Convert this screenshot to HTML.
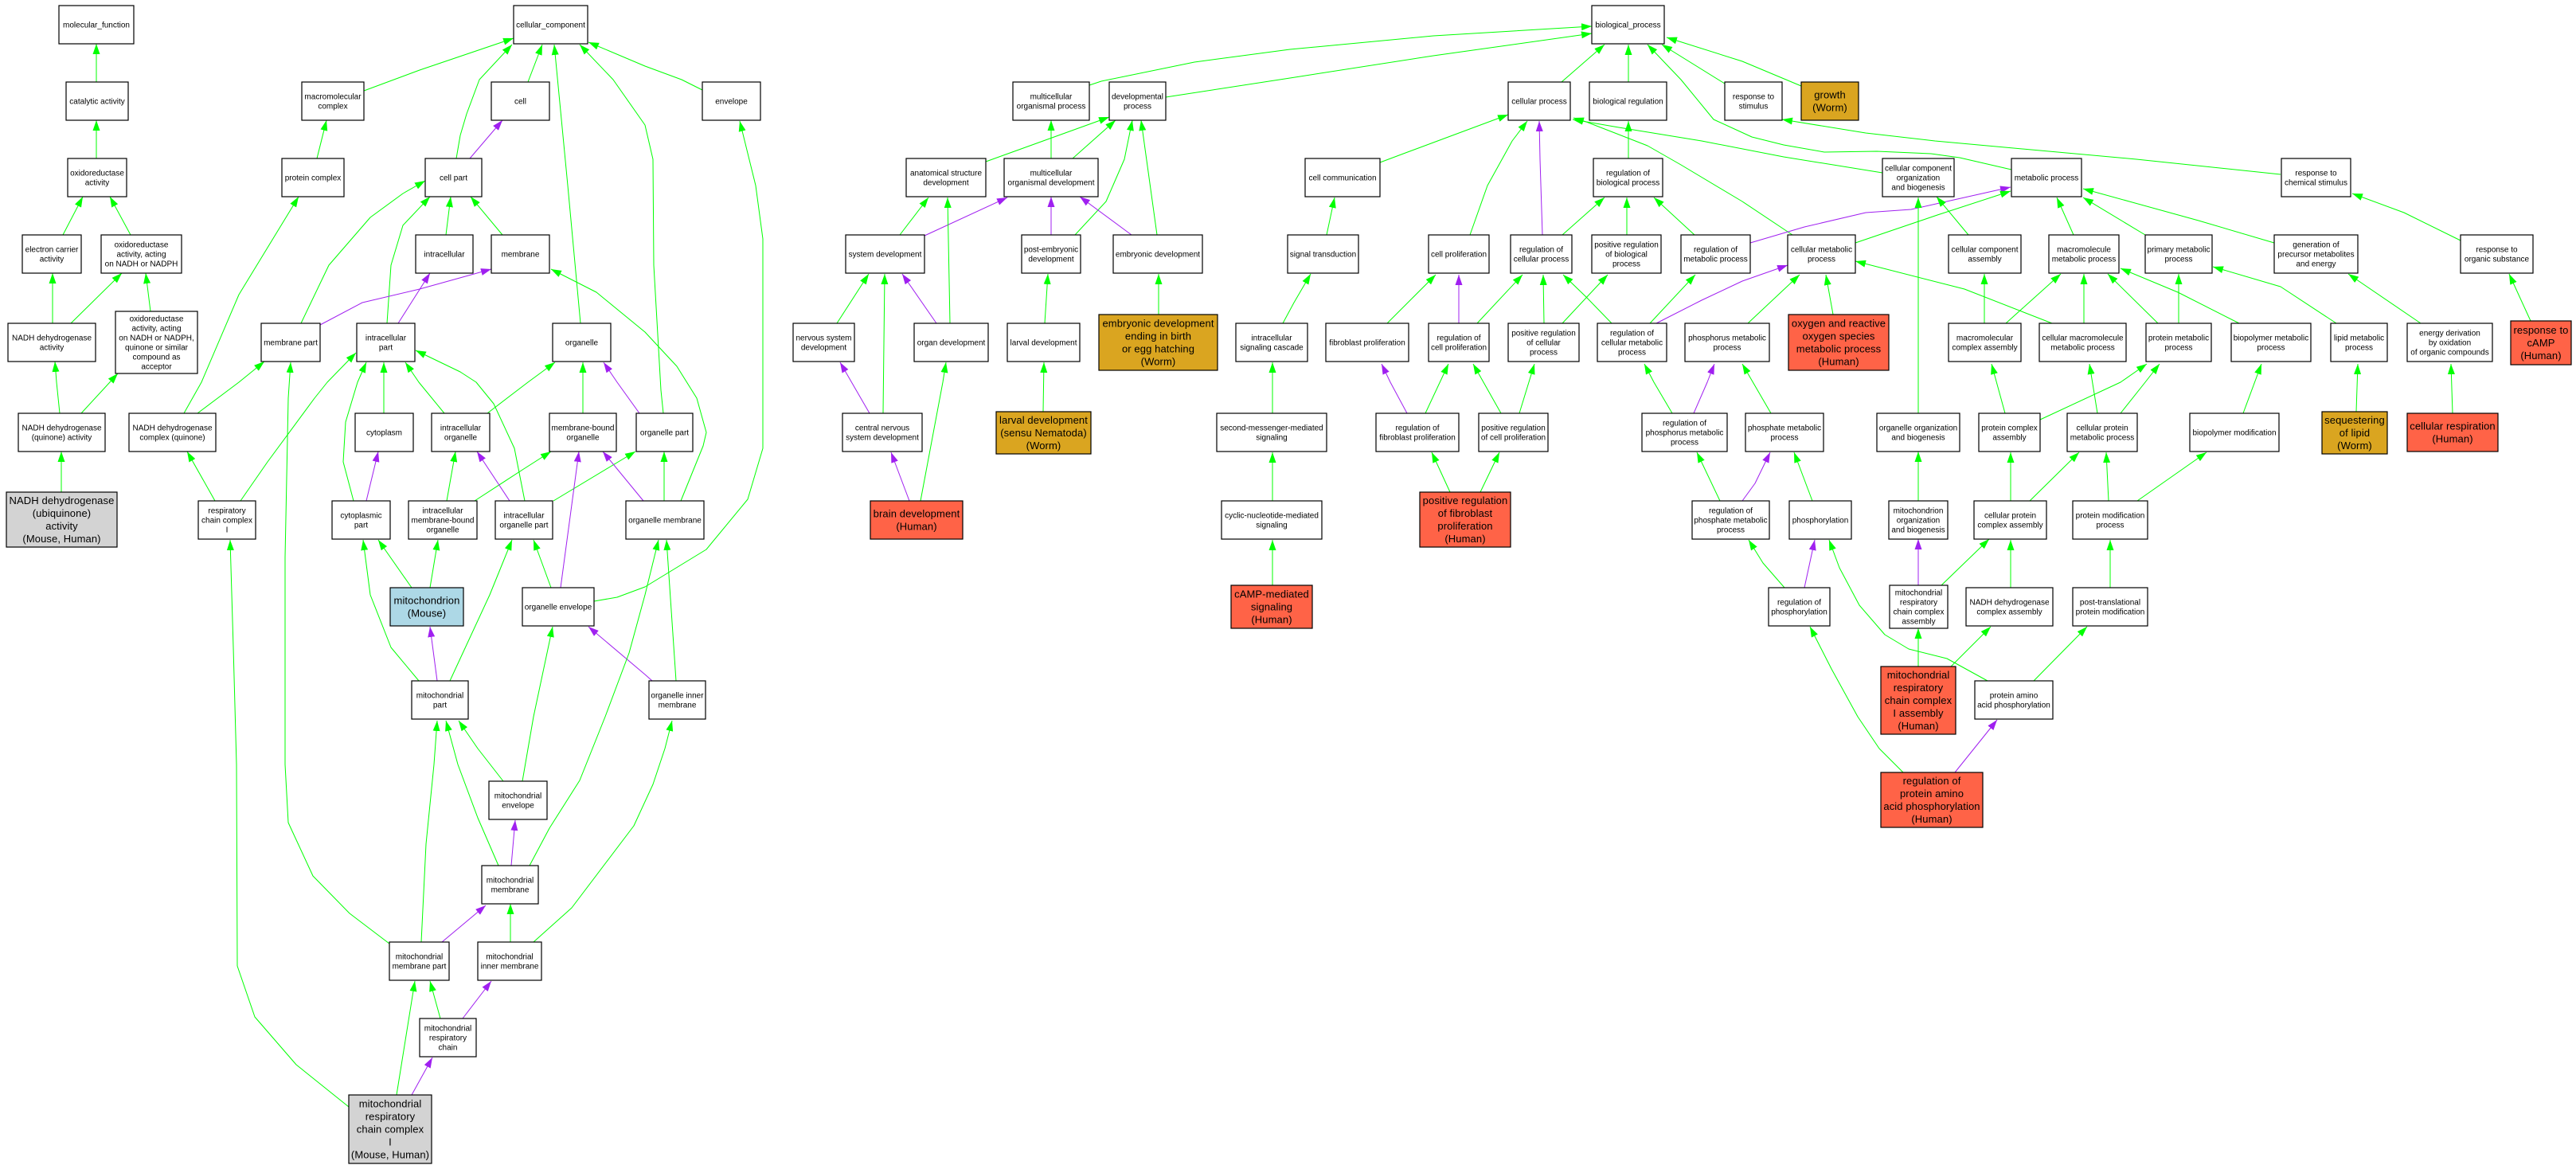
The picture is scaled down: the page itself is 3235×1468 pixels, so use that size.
<!DOCTYPE html>
<html><head><meta charset="utf-8"><title>GO diagram</title>
<style>
html,body{margin:0;padding:0;background:#fff;}
svg{display:block;}
.e path{fill:none;stroke-width:1;stroke-linejoin:round;}
.g{stroke:#00ff00;marker-end:url(#ag);}
.p{stroke:#a020f0;marker-end:url(#ap);}
.n rect{fill:#fff;stroke:#000;stroke-width:1.2;}
.n text{font-family:"Liberation Sans",Arial,sans-serif;font-size:10px;text-anchor:middle;fill:#000;}
.n rect.gold{fill:#daa520;}
.n rect.red{fill:#ff6347;}
.n rect.gray{fill:#d3d3d3;}
.n rect.blue{fill:#add8e6;}
.n text.c{font-size:13px;letter-spacing:0.1px;}
</style></head>
<body>
<svg width="3235" height="1468" viewBox="0 0 3235 1468" xmlns="http://www.w3.org/2000/svg">
<defs>
<marker id="ag" markerUnits="userSpaceOnUse" markerWidth="14" markerHeight="10" refX="13" refY="5" orient="auto" viewBox="0 0 14 10"><path d="M0,0.5L13,5L0,9.5z" fill="#00ff00"/></marker>
<marker id="ap" markerUnits="userSpaceOnUse" markerWidth="14" markerHeight="10" refX="13" refY="5" orient="auto" viewBox="0 0 14 10"><path d="M0,0.5L13,5L0,9.5z" fill="#a020f0"/></marker>
</defs>
<rect x="0" y="0" width="3235" height="1468" fill="#fff"/>
<g class="e">
<!-- left: molecular function -->
<path class="g" d="M121,103 L121,55"/>
<path class="g" d="M121,199 L121,151"/>
<path class="g" d="M79,295 L104,247"/>
<path class="g" d="M164,295 L138,247"/>
<path class="g" d="M66,406 L66,343"/>
<path class="g" d="M89,406 L153,343"/>
<path class="g" d="M189,391 L183,343"/>
<path class="g" d="M75,519 L71,480 L69,454"/>
<path class="g" d="M102,519 L148,469"/>
<path class="g" d="M77,618 L77,567"/>
<!-- cellular component -->
<path class="g" d="M457,114 L527,88 L645,48"/>
<path class="g" d="M573,199 L578,170 L586,143 L602,100 L643,56"/>
<path class="g" d="M663,103 L681,56"/>
<path class="g" d="M729,406 L713,233 L696,56"/>
<path class="g" d="M882,113 L856,100 L810,83 L739,53"/>
<path class="g" d="M833,519 L830,490 L821,333 L820,200 L810,157 L770,100 L728,56"/>
<path class="p" d="M590,199 L631,151"/>
<path class="g" d="M560,295 L566,247"/>
<path class="g" d="M631,295 L591,247"/>
<path class="g" d="M378,406 L413,333 L465,273 L506,243 L534,227"/>
<path class="g" d="M486,406 L491,333 L506,283 L540,247"/>
<path class="p" d="M402,408 L455,380 L527,363 L617,338"/>
<path class="p" d="M500,406 L540,343"/>
<path class="g" d="M398,199 L410,151"/>
<path class="g" d="M231,519 L253,480 L300,370 L375,247"/>
<path class="g" d="M248,519 L300,480 L332,454"/>
<path class="g" d="M270,629 L235,567"/>
<path class="g" d="M302,629 L336,580 L395,500 L411,480 L447,443"/>
<path class="p" d="M460,629 L475,567"/>
<path class="g" d="M444,629 L431,580 L434,530 L449,480 L460,455"/>
<path class="g" d="M482,519 L482,455"/>
<path class="g" d="M558,519 L526,480 L509,455"/>
<path class="g" d="M659,629 L646,563 L620,507 L598,480 L578,467 L522,440"/>
<path class="g" d="M612,519 L663,480 L697,455"/>
<path class="g" d="M732,519 L732,455"/>
<path class="p" d="M803,519 L775,480 L758,455"/>
<path class="g" d="M561,629 L572,567"/>
<path class="g" d="M596,629 L656,590 L692,567"/>
<path class="p" d="M640,629 L599,567"/>
<path class="g" d="M695,629 L798,567"/>
<path class="p" d="M808,629 L757,567"/>
<path class="g" d="M834,629 L834,567"/>
<path class="g" d="M855,629 L883,560 L887,543 L875,500 L850,460 L810,417 L749,367 L692,338"/>
<path class="g" d="M517,738 L475,678"/>
<path class="g" d="M540,738 L550,678"/>
<path class="g" d="M692,738 L670,678"/>
<path class="p" d="M704,738 L727,567"/>
<path class="g" d="M746,755 L775,750 L810,737 L887,690 L939,627 L958,563 L958,300 L949,233 L929,152"/>
<path class="p" d="M549,855 L540,787"/>
<path class="g" d="M526,855 L491,813 L465,747 L456,678"/>
<path class="g" d="M565,855 L615,747 L643,678"/>
<path class="p" d="M819,855 L810,847 L739,787"/>
<path class="g" d="M849,855 L837,678"/>
<path class="g" d="M665,1087 L690,1040 L728,980 L760,900 L790,820 L810,747 L827,678"/>
<path class="g" d="M632,981 L600,940 L576,905"/>
<path class="g" d="M656,981 L670,900 L694,787"/>
<path class="g" d="M626,1087 L600,1027 L575,960 L560,905"/>
<path class="g" d="M529,1183 L535,1060 L545,960 L549,905"/>
<path class="g" d="M489,1185 L439,1147 L393,1100 L362,1033 L358,960 L358,700 L362,500 L365,455"/>
<path class="p" d="M642,1087 L647,1030"/>
<path class="p" d="M555,1183 L610,1137"/>
<path class="g" d="M641,1183 L641,1135"/>
<path class="g" d="M670,1183 L718,1140 L796,1037 L820,985 L835,940 L844,905"/>
<path class="g" d="M553,1279 L540,1232"/>
<path class="p" d="M581,1279 L617,1232"/>
<path class="g" d="M498,1375 L521,1232"/>
<path class="p" d="M517,1375 L543,1328"/>
<path class="g" d="M438,1390 L372,1337 L320,1277 L298,1213 L297,960 L293,813 L289,678"/>
<!-- developmental -->
<path class="g" d="M1368,107 L1383,102 L1500,78 L1620,62 L1800,45 L1999,33"/>
<path class="g" d="M1464,122 L1620,98 L1800,70 L1999,42"/>
<path class="g" d="M1238,203 L1393,147"/>
<path class="g" d="M1320,199 L1320,151"/>
<path class="g" d="M1347,199 L1401,151"/>
<path class="g" d="M1350,295 L1389,253 L1412,200 L1422,151"/>
<path class="g" d="M1453,295 L1433,151"/>
<path class="g" d="M1130,295 L1166,248"/>
<path class="p" d="M1161,296 L1265,248"/>
<path class="g" d="M1193,406 L1190,248"/>
<path class="p" d="M1320,295 L1320,247"/>
<path class="p" d="M1421,295 L1356,247"/>
<path class="g" d="M1051,406 L1091,344"/>
<path class="p" d="M1176,406 L1133,344"/>
<path class="g" d="M1109,519 L1111,344"/>
<path class="g" d="M1312,406 L1316,344"/>
<path class="g" d="M1455,395 L1455,344"/>
<path class="p" d="M1092,519 L1081,500 L1055,455"/>
<path class="g" d="M1156,629 L1184,480 L1188,455"/>
<path class="p" d="M1142,629 L1119,568"/>
<path class="g" d="M1310,517 L1311,455"/>
<path class="g" d="M1611,406 L1625,380 L1646,344"/>
<path class="g" d="M1598,519 L1598,455"/>
<path class="g" d="M1598,629 L1598,568"/>
<path class="g" d="M1598,735 L1598,678"/>
<!-- biological process -->
<path class="g" d="M1961,103 L2015,56"/>
<path class="g" d="M2045,103 L2045,56"/>
<path class="g" d="M2166,105 L2087,56"/>
<path class="g" d="M2262,108 L2188,77 L2093,47"/>
<path class="g" d="M2526,213 L2461,198 L2425,193 L2357,190 L2291,191 L2240,182 L2200,172 L2152,150 L2111,100 L2069,56"/>
<path class="g" d="M1733,204 L1765,192 L1894,144"/>
<path class="g" d="M1846,295 L1868,233 L1899,177 L1918,152"/>
<path class="p" d="M1937,295 L1934,200 L1933,152"/>
<path class="g" d="M2251,295 L2188,253 L2111,207 L2069,183 L1992,153 L1976,148"/>
<path class="g" d="M2364,217 L2240,197 L2137,177 L2033,160 L1975,150"/>
<path class="g" d="M2045,199 L2045,152"/>
<path class="g" d="M1666,295 L1676,248"/>
<path class="g" d="M1962,295 L2015,248"/>
<path class="g" d="M2043,295 L2043,248"/>
<path class="g" d="M2128,295 L2077,248"/>
<path class="p" d="M2198,305 L2266,285 L2343,267 L2400,263 L2467,248 L2525,235"/>
<path class="g" d="M2330,305 L2433,270 L2525,240"/>
<path class="p" d="M2080,406 L2137,377 L2188,353 L2245,333"/>
<path class="g" d="M2195,406 L2260,345"/>
<path class="g" d="M2302,395 L2293,345"/>
<path class="g" d="M2577,406 L2467,363 L2330,328"/>
<path class="g" d="M1742,406 L1803,345"/>
<path class="p" d="M1832,406 L1832,345"/>
<path class="g" d="M1855,406 L1912,345"/>
<path class="g" d="M1939,406 L1938,345"/>
<path class="g" d="M1962,406 L2019,345"/>
<path class="g" d="M2024,406 L1992,373 L1963,345"/>
<path class="g" d="M2072,406 L2129,345"/>
<path class="p" d="M1767,519 L1746,480 L1735,457"/>
<path class="g" d="M1790,519 L1819,457"/>
<path class="g" d="M1885,519 L1863,480 L1850,457"/>
<path class="g" d="M1908,519 L1927,457"/>
<path class="g" d="M2100,519 L2077,480 L2065,457"/>
<path class="p" d="M2127,519 L2144,480 L2153,457"/>
<path class="g" d="M2224,519 L2188,457"/>
<path class="g" d="M2409,519 L2409,248"/>
<path class="g" d="M1821,618 L1798,568"/>
<path class="g" d="M1859,618 L1883,568"/>
<path class="g" d="M2160,629 L2131,568"/>
<path class="p" d="M2188,629 L2204,607 L2223,568"/>
<path class="g" d="M2276,629 L2253,568"/>
<path class="g" d="M2241,738 L2214,707 L2196,678"/>
<path class="p" d="M2266,738 L2279,678"/>
<path class="g" d="M2496,855 L2445,827 L2397,815 L2367,797 L2335,760 L2310,713 L2297,678"/>
<path class="g" d="M2409,629 L2409,567"/>
<path class="p" d="M2409,735 L2409,677"/>
<path class="g" d="M2438,735 L2498,677"/>
<path class="g" d="M2409,837 L2409,789"/>
<path class="g" d="M2450,837 L2500,787"/>
<path class="g" d="M2390,970 L2360,940 L2333,900 L2300,840 L2273,787"/>
<path class="p" d="M2455,970 L2508,904"/>
<!-- metabolic right side -->
<path class="g" d="M2864,219 L2683,200 L2430,177 L2343,167 L2238,150"/>
<path class="g" d="M2472,295 L2432,247"/>
<path class="g" d="M2604,295 L2583,248"/>
<path class="g" d="M2694,295 L2616,248"/>
<path class="g" d="M2856,305 L2761,277 L2616,237"/>
<path class="g" d="M3090,302 L3019,267 L2954,243"/>
<path class="g" d="M2492,406 L2492,344"/>
<path class="g" d="M2519,406 L2588,344"/>
<path class="g" d="M2617,406 L2617,344"/>
<path class="g" d="M2710,406 L2647,344"/>
<path class="g" d="M2736,406 L2736,344"/>
<path class="g" d="M2812,406 L2735,367 L2663,337"/>
<path class="g" d="M2934,406 L2864,360 L2779,335"/>
<path class="g" d="M3040,406 L2949,344"/>
<path class="g" d="M3178,403 L3151,344"/>
<path class="g" d="M2518,519 L2501,457"/>
<path class="g" d="M2634,519 L2624,457"/>
<path class="g" d="M2562,527 L2663,480 L2696,457"/>
<path class="g" d="M2663,519 L2694,480 L2712,457"/>
<path class="g" d="M2817,519 L2840,457"/>
<path class="g" d="M2959,517 L2961,457"/>
<path class="g" d="M3080,519 L3078,457"/>
<path class="g" d="M2525,629 L2525,568"/>
<path class="g" d="M2549,629 L2611,568"/>
<path class="g" d="M2648,629 L2645,568"/>
<path class="g" d="M2684,629 L2771,568"/>
<path class="g" d="M2525,738 L2525,678"/>
<path class="g" d="M2650,738 L2650,678"/>
<path class="g" d="M2554,855 L2621,787"/>
</g>

<g class="n">
<!-- rank 1 -->
<rect x="74" y="7" width="94" height="48"/><text x="121" y="34.5">molecular_function</text>
<rect x="645" y="7" width="93" height="48"/><text x="691.5" y="34.5">cellular_component</text>
<rect x="1999" y="7" width="91" height="48"/><text x="2044.5" y="34.5">biological_process</text>
<!-- rank 2 -->
<rect x="83" y="103" width="78" height="48"/><text x="122" y="130.5">catalytic activity</text>
<rect x="379" y="103" width="78" height="48"/><text x="418" y="124.5">macromolecular<tspan x="418" dy="12">complex</tspan></text>
<rect x="617" y="103" width="73" height="48"/><text x="653.5" y="130.5">cell</text>
<rect x="882" y="103" width="73" height="48"/><text x="918.5" y="130.5">envelope</text>
<rect x="1272" y="103" width="96" height="48"/><text x="1320" y="124.5">multicellular<tspan x="1320" dy="12">organismal process</tspan></text>
<rect x="1393" y="103" width="71" height="48"/><text x="1428.5" y="124.5">developmental<tspan x="1428.5" dy="12">process</tspan></text>
<rect x="1894" y="103" width="78" height="48"/><text x="1933" y="130.5">cellular process</text>
<rect x="1996" y="103" width="97" height="48"/><text x="2044.5" y="130.5">biological regulation</text>
<rect x="2166" y="103" width="72" height="48"/><text x="2202" y="124.5">response to<tspan x="2202" dy="12">stimulus</tspan></text>
<rect class="gold" x="2262" y="103" width="72" height="48"/><text class="c" x="2298" y="123.5">growth<tspan x="2298" dy="16">(Worm)</tspan></text>
<!-- rank 3 -->
<rect x="85" y="199" width="74" height="48"/><text x="122" y="220.5">oxidoreductase<tspan x="122" dy="12">activity</tspan></text>
<rect x="354" y="199" width="78" height="48"/><text x="393" y="226.5">protein complex</text>
<rect x="534" y="199" width="71" height="48"/><text x="569.5" y="226.5">cell part</text>
<rect x="1138" y="199" width="100" height="48"/><text x="1188" y="220.5">anatomical structure<tspan x="1188" dy="12">development</tspan></text>
<rect x="1261" y="199" width="118" height="48"/><text x="1320" y="220.5">multicellular<tspan x="1320" dy="12">organismal development</tspan></text>
<rect x="1639" y="199" width="94" height="48"/><text x="1686" y="226.5">cell communication</text>
<rect x="2001" y="199" width="87" height="48"/><text x="2044.5" y="220.5">regulation of<tspan x="2044.5" dy="12">biological process</tspan></text>
<rect x="2364" y="199" width="90" height="48"/><text x="2409" y="214.5">cellular component<tspan x="2409" dy="12">organization</tspan><tspan x="2409" dy="12">and biogenesis</tspan></text>
<rect x="2526" y="199" width="88" height="48"/><text x="2570" y="226.5">metabolic process</text>
<rect x="2865" y="199" width="87" height="48"/><text x="2908.5" y="220.5">response to<tspan x="2908.5" dy="12">chemical stimulus</tspan></text>
<!-- rank 4 -->
<rect x="28" y="295" width="74" height="48"/><text x="65" y="316.5">electron carrier<tspan x="65" dy="12">activity</tspan></text>
<rect x="127" y="295" width="101" height="48"/><text x="177.5" y="310.5">oxidoreductase<tspan x="177.5" dy="12">activity, acting</tspan><tspan x="177.5" dy="12">on NADH or NADPH</tspan></text>
<rect x="522" y="295" width="72" height="48"/><text x="558" y="322.5">intracellular</text>
<rect x="617" y="295" width="73" height="48"/><text x="653.5" y="322.5">membrane</text>
<rect x="1062" y="295" width="99" height="48"/><text x="1111.5" y="322.5">system development</text>
<rect x="1283" y="295" width="74" height="48"/><text x="1320" y="316.5">post-embryonic<tspan x="1320" dy="12">development</tspan></text>
<rect x="1398" y="295" width="112" height="48"/><text x="1454" y="322.5">embryonic development</text>
<rect x="1617" y="295" width="89" height="48"/><text x="1661.5" y="322.5">signal transduction</text>
<rect x="1794" y="295" width="76" height="48"/><text x="1832" y="322.5">cell proliferation</text>
<rect x="1897" y="295" width="77" height="48"/><text x="1935.5" y="316.5">regulation of<tspan x="1935.5" dy="12">cellular process</tspan></text>
<rect x="1999" y="295" width="87" height="48"/><text x="2042.5" y="310.5">positive regulation<tspan x="2042.5" dy="12">of biological</tspan><tspan x="2042.5" dy="12">process</tspan></text>
<rect x="2111" y="295" width="87" height="48"/><text x="2154.5" y="316.5">regulation of<tspan x="2154.5" dy="12">metabolic process</tspan></text>
<rect x="2245" y="295" width="85" height="48"/><text x="2287.5" y="316.5">cellular metabolic<tspan x="2287.5" dy="12">process</tspan></text>
<rect x="2447" y="295" width="91" height="48"/><text x="2492.5" y="316.5">cellular component<tspan x="2492.5" dy="12">assembly</tspan></text>
<rect x="2573" y="295" width="88" height="48"/><text x="2617" y="316.5">macromolecule<tspan x="2617" dy="12">metabolic process</tspan></text>
<rect x="2694" y="295" width="84" height="48"/><text x="2736" y="316.5">primary metabolic<tspan x="2736" dy="12">process</tspan></text>
<rect x="2856" y="295" width="105" height="48"/><text x="2908.5" y="310.5">generation of<tspan x="2908.5" dy="12">precursor metabolites</tspan><tspan x="2908.5" dy="12">and energy</tspan></text>
<rect x="3090" y="295" width="91" height="48"/><text x="3135.5" y="316.5">response to<tspan x="3135.5" dy="12">organic substance</tspan></text>
<!-- rank 5 -->
<rect x="10" y="406" width="110" height="48"/><text x="65" y="427.5">NADH dehydrogenase<tspan x="65" dy="12">activity</tspan></text>
<rect x="145" y="391" width="103" height="78"/><text x="196.5" y="403.5">oxidoreductase<tspan x="196.5" dy="12">activity, acting</tspan><tspan x="196.5" dy="12">on NADH or NADPH,</tspan><tspan x="196.5" dy="12">quinone or similar</tspan><tspan x="196.5" dy="12">compound as</tspan><tspan x="196.5" dy="12">acceptor</tspan></text>
<rect x="328" y="406" width="74" height="48"/><text x="365" y="433.5">membrane part</text>
<rect x="448" y="406" width="73" height="48"/><text x="484.5" y="427.5">intracellular<tspan x="484.5" dy="12">part</tspan></text>
<rect x="694" y="406" width="73" height="48"/><text x="730.5" y="433.5">organelle</text>
<rect x="996" y="406" width="77" height="48"/><text x="1034.5" y="427.5">nervous system<tspan x="1034.5" dy="12">development</tspan></text>
<rect x="1148" y="406" width="93" height="48"/><text x="1194.5" y="433.5">organ development</text>
<rect x="1265" y="406" width="91" height="48"/><text x="1310.5" y="433.5">larval development</text>
<rect class="gold" x="1380" y="395" width="149" height="70"/><text class="c" x="1454.5" y="410.5">embryonic development<tspan x="1454.5" dy="16">ending in birth</tspan><tspan x="1454.5" dy="16">or egg hatching</tspan><tspan x="1454.5" dy="16">(Worm)</tspan></text>
<rect x="1552" y="406" width="90" height="48"/><text x="1597" y="427.5">intracellular<tspan x="1597" dy="12">signaling cascade</tspan></text>
<rect x="1665" y="406" width="104" height="48"/><text x="1717" y="433.5">fibroblast proliferation</text>
<rect x="1794" y="406" width="76" height="48"/><text x="1832" y="427.5">regulation of<tspan x="1832" dy="12">cell proliferation</tspan></text>
<rect x="1894" y="406" width="89" height="48"/><text x="1938.5" y="421.5">positive regulation<tspan x="1938.5" dy="12">of cellular</tspan><tspan x="1938.5" dy="12">process</tspan></text>
<rect x="2006" y="406" width="87" height="48"/><text x="2049.5" y="421.5">regulation of<tspan x="2049.5" dy="12">cellular metabolic</tspan><tspan x="2049.5" dy="12">process</tspan></text>
<rect x="2116" y="406" width="106" height="48"/><text x="2169" y="427.5">phosphorus metabolic<tspan x="2169" dy="12">process</tspan></text>
<rect class="red" x="2246" y="395" width="126" height="70"/><text class="c" x="2309" y="410.5">oxygen and reactive<tspan x="2309" dy="16">oxygen species</tspan><tspan x="2309" dy="16">metabolic process</tspan><tspan x="2309" dy="16">(Human)</tspan></text>
<rect x="2447" y="406" width="91" height="48"/><text x="2492.5" y="427.5">macromolecular<tspan x="2492.5" dy="12">complex assembly</tspan></text>
<rect x="2561" y="406" width="109" height="48"/><text x="2615.5" y="427.5">cellular macromolecule<tspan x="2615.5" dy="12">metabolic process</tspan></text>
<rect x="2695" y="406" width="82" height="48"/><text x="2736" y="427.5">protein metabolic<tspan x="2736" dy="12">process</tspan></text>
<rect x="2802" y="406" width="100" height="48"/><text x="2852" y="427.5">biopolymer metabolic<tspan x="2852" dy="12">process</tspan></text>
<rect x="2927" y="406" width="71" height="48"/><text x="2962.5" y="427.5">lipid metabolic<tspan x="2962.5" dy="12">process</tspan></text>
<rect x="3023" y="406" width="107" height="48"/><text x="3076.5" y="421.5">energy derivation<tspan x="3076.5" dy="12">by oxidation</tspan><tspan x="3076.5" dy="12">of organic compounds</tspan></text>
<rect class="red" x="3153" y="403" width="76" height="55"/><text class="c" x="3191" y="419">response to<tspan x="3191" dy="16">cAMP</tspan><tspan x="3191" dy="16">(Human)</tspan></text>
<!-- rank 6 -->
<rect x="23" y="519" width="109" height="48"/><text x="77.5" y="540.5">NADH dehydrogenase<tspan x="77.5" dy="12">(quinone) activity</tspan></text>
<rect x="162" y="519" width="109" height="48"/><text x="216.5" y="540.5">NADH dehydrogenase<tspan x="216.5" dy="12">complex (quinone)</tspan></text>
<rect x="446" y="519" width="73" height="48"/><text x="482.5" y="546.5">cytoplasm</text>
<rect x="542" y="519" width="73" height="48"/><text x="578.5" y="540.5">intracellular<tspan x="578.5" dy="12">organelle</tspan></text>
<rect x="690" y="519" width="84" height="48"/><text x="732" y="540.5">membrane-bound<tspan x="732" dy="12">organelle</tspan></text>
<rect x="799" y="519" width="71" height="48"/><text x="834.5" y="546.5">organelle part</text>
<rect x="1058" y="519" width="100" height="48"/><text x="1108" y="540.5">central nervous<tspan x="1108" dy="12">system development</tspan></text>
<rect class="gold" x="1251" y="517" width="119" height="53"/><text class="c" x="1310.5" y="532">larval development<tspan x="1310.5" dy="16">(sensu Nematoda)</tspan><tspan x="1310.5" dy="16">(Worm)</tspan></text>
<rect x="1528" y="519" width="138" height="48"/><text x="1597" y="540.5">second-messenger-mediated<tspan x="1597" dy="12">signaling</tspan></text>
<rect x="1728" y="519" width="104" height="48"/><text x="1780" y="540.5">regulation of<tspan x="1780" dy="12">fibroblast proliferation</tspan></text>
<rect x="1857" y="519" width="87" height="48"/><text x="1900.5" y="540.5">positive regulation<tspan x="1900.5" dy="12">of cell proliferation</tspan></text>
<rect x="2062" y="519" width="107" height="48"/><text x="2115.5" y="534.5">regulation of<tspan x="2115.5" dy="12">phosphorus metabolic</tspan><tspan x="2115.5" dy="12">process</tspan></text>
<rect x="2192" y="519" width="98" height="48"/><text x="2241" y="540.5">phosphate metabolic<tspan x="2241" dy="12">process</tspan></text>
<rect x="2357" y="519" width="104" height="48"/><text x="2409" y="540.5">organelle organization<tspan x="2409" dy="12">and biogenesis</tspan></text>
<rect x="2485" y="519" width="77" height="48"/><text x="2523.5" y="540.5">protein complex<tspan x="2523.5" dy="12">assembly</tspan></text>
<rect x="2596" y="519" width="88" height="48"/><text x="2640" y="540.5">cellular protein<tspan x="2640" dy="12">metabolic process</tspan></text>
<rect x="2750" y="519" width="112" height="48"/><text x="2806" y="546.5">biopolymer modification</text>
<rect class="gold" x="2916" y="517" width="82" height="53"/><text class="c" x="2957" y="532">sequestering<tspan x="2957" dy="16">of lipid</tspan><tspan x="2957" dy="16">(Worm)</tspan></text>
<rect class="red" x="3023" y="519" width="114" height="48"/><text class="c" x="3080" y="539.5">cellular respiration<tspan x="3080" dy="16">(Human)</tspan></text>
<!-- rank 7 -->
<rect class="gray" x="8" y="618" width="139" height="69"/><text class="c" x="77.5" y="633">NADH dehydrogenase<tspan x="77.5" dy="16">(ubiquinone)</tspan><tspan x="77.5" dy="16">activity</tspan><tspan x="77.5" dy="16">(Mouse, Human)</tspan></text>
<rect x="249" y="629" width="72" height="48"/><text x="285" y="644.5">respiratory<tspan x="285" dy="12">chain complex</tspan><tspan x="285" dy="12">I</tspan></text>
<rect x="417" y="629" width="73" height="48"/><text x="453.5" y="650.5">cytoplasmic<tspan x="453.5" dy="12">part</tspan></text>
<rect x="513" y="629" width="86" height="48"/><text x="556" y="644.5">intracellular<tspan x="556" dy="12">membrane-bound</tspan><tspan x="556" dy="12">organelle</tspan></text>
<rect x="622" y="629" width="72" height="48"/><text x="658" y="650.5">intracellular<tspan x="658" dy="12">organelle part</tspan></text>
<rect x="786" y="629" width="98" height="48"/><text x="835" y="656.5">organelle membrane</text>
<rect class="red" x="1093" y="629" width="116" height="48"/><text class="c" x="1151" y="649.5">brain development<tspan x="1151" dy="16">(Human)</tspan></text>
<rect x="1534" y="629" width="126" height="48"/><text x="1597" y="650.5">cyclic-nucleotide-mediated<tspan x="1597" dy="12">signaling</tspan></text>
<rect class="red" x="1783" y="618" width="114" height="69"/><text class="c" x="1840" y="633">positive regulation<tspan x="1840" dy="16">of fibroblast</tspan><tspan x="1840" dy="16">proliferation</tspan><tspan x="1840" dy="16">(Human)</tspan></text>
<rect x="2125" y="629" width="97" height="48"/><text x="2173.5" y="644.5">regulation of<tspan x="2173.5" dy="12">phosphate metabolic</tspan><tspan x="2173.5" dy="12">process</tspan></text>
<rect x="2247" y="629" width="78" height="48"/><text x="2286" y="656.5">phosphorylation</text>
<rect x="2372" y="629" width="74" height="48"/><text x="2409" y="644.5">mitochondrion<tspan x="2409" dy="12">organization</tspan><tspan x="2409" dy="12">and biogenesis</tspan></text>
<rect x="2479" y="629" width="91" height="48"/><text x="2524.5" y="650.5">cellular protein<tspan x="2524.5" dy="12">complex assembly</tspan></text>
<rect x="2603" y="629" width="94" height="48"/><text x="2650" y="650.5">protein modification<tspan x="2650" dy="12">process</tspan></text>
<!-- rank 8 -->
<rect class="blue" x="490" y="738" width="92" height="48"/><text class="c" x="536" y="758.5">mitochondrion<tspan x="536" dy="16">(Mouse)</tspan></text>
<rect x="656" y="738" width="90" height="48"/><text x="701" y="765.5">organelle envelope</text>
<rect class="red" x="1546" y="735" width="102" height="54"/><text class="c" x="1597" y="750.5">cAMP-mediated<tspan x="1597" dy="16">signaling</tspan><tspan x="1597" dy="16">(Human)</tspan></text>
<rect x="2221" y="738" width="77" height="48"/><text x="2259.5" y="759.5">regulation of<tspan x="2259.5" dy="12">phosphorylation</tspan></text>
<rect x="2373" y="735" width="73" height="54"/><text x="2409.5" y="747.5">mitochondrial<tspan x="2409.5" dy="12">respiratory</tspan><tspan x="2409.5" dy="12">chain complex</tspan><tspan x="2409.5" dy="12">assembly</tspan></text>
<rect x="2469" y="738" width="109" height="48"/><text x="2523.5" y="759.5">NADH dehydrogenase<tspan x="2523.5" dy="12">complex assembly</tspan></text>
<rect x="2603" y="738" width="94" height="48"/><text x="2650" y="759.5">post-translational<tspan x="2650" dy="12">protein modification</tspan></text>
<!-- rank 9 -->
<rect x="517" y="855" width="71" height="48"/><text x="552.5" y="876.5">mitochondrial<tspan x="552.5" dy="12">part</tspan></text>
<rect x="815" y="855" width="71" height="48"/><text x="850.5" y="876.5">organelle inner<tspan x="850.5" dy="12">membrane</tspan></text>
<rect class="red" x="2362" y="837" width="94" height="85"/><text class="c" x="2409" y="852">mitochondrial<tspan x="2409" dy="16">respiratory</tspan><tspan x="2409" dy="16">chain complex</tspan><tspan x="2409" dy="16">I assembly</tspan><tspan x="2409" dy="16">(Human)</tspan></text>
<rect x="2480" y="855" width="98" height="48"/><text x="2529" y="876.5">protein amino<tspan x="2529" dy="12">acid phosphorylation</tspan></text>
<!-- rank 10+ -->
<rect x="614" y="981" width="73" height="48"/><text x="650.5" y="1002.5">mitochondrial<tspan x="650.5" dy="12">envelope</tspan></text>
<rect class="red" x="2362" y="970" width="128" height="69"/><text class="c" x="2426" y="985">regulation of<tspan x="2426" dy="16">protein amino</tspan><tspan x="2426" dy="16">acid phosphorylation</tspan><tspan x="2426" dy="16">(Human)</tspan></text>
<rect x="605" y="1087" width="71" height="48"/><text x="640.5" y="1108.5">mitochondrial<tspan x="640.5" dy="12">membrane</tspan></text>
<rect x="489" y="1183" width="75" height="48"/><text x="526.5" y="1204.5">mitochondrial<tspan x="526.5" dy="12">membrane part</tspan></text>
<rect x="600" y="1183" width="80" height="48"/><text x="640" y="1204.5">mitochondrial<tspan x="640" dy="12">inner membrane</tspan></text>
<rect x="527" y="1279" width="71" height="48"/><text x="562.5" y="1294.5">mitochondrial<tspan x="562.5" dy="12">respiratory</tspan><tspan x="562.5" dy="12">chain</tspan></text>
<rect class="gray" x="438" y="1375" width="104" height="86"/><text class="c" x="490" y="1390.5">mitochondrial<tspan x="490" dy="16">respiratory</tspan><tspan x="490" dy="16">chain complex</tspan><tspan x="490" dy="16">I</tspan><tspan x="490" dy="16">(Mouse, Human)</tspan></text>
</g>
</svg>
</body></html>
